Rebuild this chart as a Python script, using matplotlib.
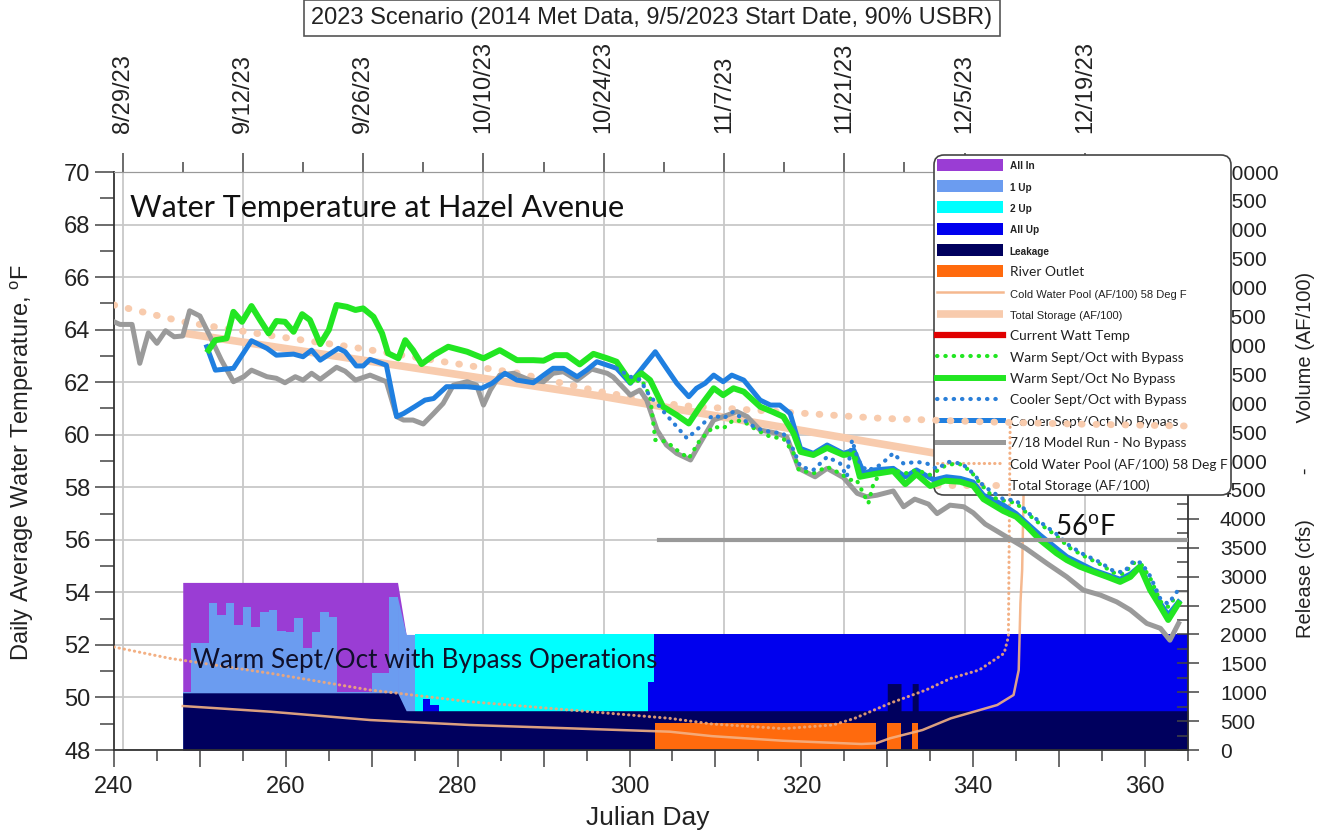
import matplotlib.pyplot as plt
from matplotlib.ticker import MultipleLocator, FuncFormatter

plt.rcParams['font.family'] = ['Liberation Sans', 'DejaVu Sans']
plt.rcParams['mathtext.fontset'] = 'custom'
plt.rcParams['mathtext.rm'] = 'Liberation Sans'

# calendar dates along the top axis
date_days = [241, 255, 269, 283, 297, 311, 325, 339, 353]
date_labels = ['8/29/23', '9/12/23', '9/26/23', '10/10/23', '10/24/23',
               '11/7/23', '11/21/23', '12/5/23', '12/19/23']
date_minor = [248, 262, 276, 290, 304, 318, 332, 346, 360]

# 7/18 model run - no bypass (deg F)
model_days = [240, 240.7, 242.1, 243, 244, 245, 246, 247, 248, 248.8, 250, 251.2, 252.5,
              253.9, 255.1, 256, 257.8, 258.9, 259.9, 261.1, 262, 263, 264, 265.9, 266.9,
              268.1, 269.8, 271.7, 272.9, 273.7, 274.8, 276, 277.2, 278.3, 279.5, 281.1,
              282.2, 283, 283.8, 284.9, 286.5, 288.4, 290, 291.1, 292.3, 293.9, 295.6,
              297.4, 298.1, 300.1, 301.2, 302, 303.2, 304.3, 305.5, 307.1, 308.2, 309.8,
              310.9, 312.5, 313.7, 315.2, 316.8, 318.3, 319.7, 321.6, 323, 324.9, 326.5,
              327.6, 328.8, 330.7, 331.9, 333.2, 334.8, 335.8, 337.3, 338.9, 340, 341.4,
              343.7, 346.1, 348.6, 350.9, 352.8, 354.8, 356.7, 358.3, 360.2, 361.8, 362.9,
              363.9]
model_temp = [64.3, 64.2, 64.2, 62.72, 63.88, 63.48, 63.96, 63.73, 63.76, 64.72, 64.52, 63.73,
              62.84, 62.02, 62.21, 62.46, 62.21, 62.15, 61.98, 62.21, 62.08, 62.34, 62.11,
              62.57, 62.42, 62.08, 62.27, 62.02, 60.69, 60.56, 60.56, 60.41, 60.81, 61.19,
              61.89, 62.02, 61.89, 61.13, 61.7, 62.27, 62.34, 62.08, 62.02, 62.34, 62.4,
              62.08, 62.5, 62.34, 62.2, 61.51, 61.7, 61.32, 60.18, 59.61, 59.29, 59.04,
              59.67, 60.56, 60.69, 60.88, 60.69, 60.18, 60.08, 59.92, 58.72, 58.4, 58.72,
              58.37, 57.77, 57.64, 57.7, 57.86, 57.26, 57.55, 57.36, 57.0, 57.32, 57.26,
              57.03, 56.6, 56.15, 55.68, 55.1, 54.59, 54.09, 53.9, 53.64, 53.33, 52.82,
              52.63, 52.18, 52.82]

# warm sept/oct, no bypass
warm_days = [251, 251.8, 253.1, 253.9, 254.9, 256, 257, 258, 258.9, 259.9, 260.9, 261.9,
             262.8, 264, 265, 265.9, 267.1, 268.1, 269, 270.2, 271.2, 271.9, 273.1, 273.9,
             274.8, 275.8, 277.2, 278.9, 281.1, 283, 284.9, 286.9, 288.8, 290, 291.3, 292.7,
             294.2, 295.8, 297.4, 298.5, 300.1, 301.4, 302.4, 303.9, 305.5, 306.9, 308.2,
             309.8, 310.9, 312.1, 313.3, 315.2, 316.6, 317.9, 319.1, 319.9, 321.4, 323,
             324.9, 326.1, 326.8, 328.4, 330.7, 332.1, 333.4, 335, 336.7, 338.5, 340,
             341.2, 343.5, 345, 346.3, 347.8, 349.7, 350.9, 352.4, 354, 355.6, 357.1,
             358.3, 359.4, 360.6, 361.8, 362.7, 363.9]
warm_temp = [63.22, 63.6, 63.67, 64.68, 64.3, 64.9, 64.37, 63.86, 64.33, 64.3, 63.92, 64.59,
             64.37, 63.45, 63.99, 64.94, 64.87, 64.75, 64.81, 64.49, 63.86, 63.1, 62.91,
             63.6, 63.22, 62.69, 63.03, 63.35, 63.16, 62.91, 63.22, 62.84, 62.84, 62.82,
             63.03, 63.03, 62.68, 63.08, 62.91, 62.78, 62.02, 62.34, 62.08, 61.07, 60.75,
             60.43, 61.07, 61.77, 61.51, 61.77, 61.64, 61.07, 60.88, 60.69, 60.05, 59.35,
             59.23, 59.5, 59.23, 59.29, 58.4, 58.5, 58.62, 58.12, 58.5, 58.05, 58.25,
             58.21, 58.06, 57.55, 57.1, 56.88, 56.5, 55.99, 55.49, 55.23, 54.98, 54.78,
             54.59, 54.4, 54.59, 54.98, 54.09, 53.45, 52.95, 53.58]

# warm sept/oct with bypass
warm_bp_days = [298.5, 300.1, 301.4, 302.4, 303, 304.3, 305.5, 306.9, 308.2, 309.8, 310.9,
                312.1, 313.3, 314.8, 316.4, 317.9, 319.1, 319.7, 321.4, 323, 324.5, 325.7,
                326.4, 327.8, 328.4, 329.2, 330.7, 332.1, 333.4, 335, 336.9, 338.3, 339.7,
                340.8, 342.4, 343.5, 345, 346.3, 347.8, 349.7, 351.2, 352.8, 354.8, 356.3,
                357.5, 358.7, 359.6, 360.6, 361.8, 362.7, 363.7]
warm_bp_temp = [62.78, 61.96, 62.1, 61.45, 59.8, 59.74, 59.42, 59.1, 59.8, 60.31, 60.24,
                60.56, 60.5, 60.18, 59.92, 59.86, 59.29, 58.66, 58.53, 58.78, 58.53, 58.28,
                58.3, 57.39, 58.15, 58.53, 58.66, 58.53, 58.66, 58.47, 58.85, 58.91, 58.62,
                58.15, 57.6, 57.5, 57.4, 57.0, 56.6, 56.15, 55.7, 55.4, 55.07, 54.75, 54.7,
                55.12, 55.05, 54.55, 53.65, 53.45, 53.9]

# cooler sept/oct, no bypass
cool_days = [250.8, 251.8, 253.9, 256, 257.8, 258.9, 260.9, 262, 263, 264, 266.1, 266.9,
             268.2, 269, 269.8, 271.7, 272.9, 273.7, 275, 276.2, 277.2, 278.7, 281.1, 282.8,
             284, 285.5, 286.9, 288.8, 290, 291.1, 292.3, 293.9, 295, 296.2, 297.4, 298.5,
             300.1, 301.6, 303, 304.3, 305.5, 306.9, 307.8, 308.8, 309.8, 310.9, 311.9,
             313.3, 315.2, 316.4, 317.5, 318.7, 319.9, 321.4, 323, 324.9, 326.1, 327.3,
             328.4, 330.7, 332.1, 333.4, 335.4, 336.9, 338.5, 340, 341.2, 343.5, 345,
             347.8, 350.9, 354, 357.1, 358.3, 359.4, 360.6, 361.8, 362.7, 363.9]
cool_temp = [63.35, 62.46, 62.53, 63.58, 63.29, 63.03, 63.07, 62.97, 63.22, 62.84, 63.29,
             63.16, 62.62, 62.62, 62.87, 62.65, 60.69, 60.81, 61.07, 61.32, 61.38, 61.83,
             61.83, 61.77, 61.96, 62.34, 62.08, 61.98, 62.27, 62.53, 62.53, 62.21, 62.46,
             62.78, 62.65, 62.53, 61.96, 62.59, 63.16, 62.53, 61.96, 61.45, 61.77, 61.96,
             62.27, 62.02, 62.27, 62.08, 61.32, 61.13, 61.13, 60.81, 59.48, 59.29, 59.61,
             59.29, 59.42, 58.53, 58.66, 58.72, 58.4, 58.66, 58.28, 58.4, 58.34, 58.2,
             57.7, 57.33, 57.0, 56.18, 55.36, 54.85, 54.5, 54.7, 55.0, 54.2, 53.58, 53.14,
             53.64]

# cooler sept/oct with bypass
cool_bp_days = [298.5, 300.1, 301.2, 302.4, 303.2, 304.3, 305.5, 306.7, 307.8, 309, 309.8,
                310.9, 312.1, 313.3, 314.8, 316.4, 317.9, 319.1, 319.9, 321.4, 323, 324.5,
                325.3, 325.9, 326.6, 327.6, 329.2, 330.7, 331.9, 333.4, 334.6, 335.8,
                337.1, 338.7, 340, 341.2, 343.5, 345, 346.3, 347.8, 349.7, 351.2, 352.8,
                354.8, 356.3, 357.5, 358.7, 359.6, 360.6, 361.8, 362.7, 363.7]
cool_bp_temp = [62.53, 62.21, 62.1, 61.45, 61.19, 60.75, 60.31, 59.86, 60.18, 60.56, 60.75,
                60.62, 60.88, 60.56, 60.24, 60.11, 60.05, 59.42, 58.78, 58.66, 59.16,
                58.91, 58.4, 59.8, 59.04, 58.62, 58.85, 59.3, 58.9, 58.97, 58.91, 58.7,
                58.97, 58.9, 58.53, 58.05, 57.55, 57.5, 57.05, 56.68, 56.22, 55.78, 55.46,
                55.14, 54.82, 54.76, 55.2, 55.12, 54.62, 53.75, 53.56, 54.02]

# 56 F target
target_days = [303.4, 365]
target_temp = [56, 56]

# storage volumes (AF/100)
ts_days = [248, 296.6, 317.5, 335.5, 355]
ts_vol = [7215, 6125, 5593, 5138, 4680]
ts_dot_days = [240, 248, 257.8, 267.5, 277.1, 286.9, 296.6, 305.9, 317.5, 329.2, 340.8, 352, 365]
ts_dot_vol = [7700, 7410, 7180, 6977, 6747, 6522, 6200, 5960, 5853, 5739, 5680, 5640, 5606]
cwp_days = [248, 258.2, 269.8, 281.4, 293.1, 304.7, 309.6, 317.9, 327, 328.7, 330.3, 334.1,
            337.4, 342.8, 344.7, 345.3, 345.5, 345.7, 346]
cwp_vol = [761, 663, 519, 433, 375, 317, 240, 160, 104, 116, 202, 346, 548, 779, 952, 1384,
           2543, 3114, 5500]
cwp_dot_days = [240, 246.5, 258.2, 269.8, 281.4, 293.1, 304.7, 309.6, 317.9, 323.7, 326.2,
                330.3, 334.5, 337.4, 340.7, 343.6, 344.1, 344.3]
cwp_dot_vol = [1782, 1586, 1327, 1038, 836, 692, 548, 450, 370, 433, 548, 808, 1038, 1240,
               1384, 1673, 1960, 5620]

# release operations, top of each band (cfs)
allin_days = [248, 273, 274]
allin_cfs = [2900, 2900, 2000]
up1_days = [248, 249, 250, 251, 252, 253, 254, 255, 256, 257, 258, 259, 260, 261, 262, 263,
            264, 265, 266, 267, 268, 269, 270, 271, 272, 273]
up1_cfs = [1000, 1850, 1850, 2550, 2340, 2550, 2170, 2480, 2120, 2380, 2430, 2060, 2050, 2290,
           1760, 2050, 2380, 2300, 1000, 1000, 1000, 1000, 1330, 1330, 2640, 2640]
up1_end_days = [273, 274, 275]
up1_end_cfs = [2640, 2000, 2000]
up2_days = [275, 303]
up2_cfs = [2000, 2000]
allup_days = [276, 276.8, 277.8, 302.1, 302.8, 365]
allup_cfs = [890, 780, 0, 1180, 2000, 2000]
leak_days = [248, 273, 274, 330, 330, 331.6, 331.6, 332.9, 332.9, 333.6, 333.6, 365]
leak_cfs = [990, 990, 680, 680, 1150, 1150, 680, 680, 1150, 1150, 680, 680]
outlet_days = [303, 328.7, 330, 331.6, 332.9, 333.6]
outlet_cfs = [460, 0, 460, 0, 460, 0]

fig = plt.figure(figsize=(13.21, 8.34), dpi=100)
ax = fig.add_axes([0.0863, 0.1007, 0.8130, 0.6930])
ax2 = ax.twinx()
ax3 = ax.twinx()

grid_c = '#c8c8c8'
ax.set_xlim(240, 365)
ax.set_ylim(48, 70)
ax.yaxis.grid(True, which='major', color=grid_c, lw=1.3)
for d in date_days:
    ax.axvline(d, color=grid_c, lw=1.3, zorder=0.5)
for s in ax.spines.values():
    s.set_visible(False)

ax.yaxis.set_major_locator(MultipleLocator(2))
ax.yaxis.set_minor_locator(MultipleLocator(1))
ax.xaxis.set_major_locator(MultipleLocator(10))
ax.xaxis.set_minor_locator(MultipleLocator(5))
ax.xaxis.set_major_formatter(FuncFormatter(lambda v, p: f'{v:.0f}' if v % 20 == 0 else ''))
ax.tick_params(axis='y', which='major', length=14, width=1.1, color='#444', labelsize=17,
               labelcolor='#222', pad=3)
ax.tick_params(axis='y', which='minor', length=10, width=1.1, color='#444')
ax.tick_params(axis='x', which='major', length=12, width=1.1, color='#444', labelsize=17,
               labelcolor='#222', pad=7)
ax.tick_params(axis='x', which='minor', length=8, width=1.1, color='#444')

top = ax.secondary_xaxis('top')
top.set_xticks(date_days, date_labels, rotation=90, fontsize=17, color='#222')
top.set_xticks(date_minor, minor=True)
top.tick_params(which='major', length=14, width=1.1, color='#444', pad=14)
top.tick_params(which='minor', length=7, width=1.1, color='#444')
top.spines['top'].set_color('#999999')

# release bands
f_allin = ax2.fill_between(allin_days, 0, allin_cfs, color='#9a3dd4', lw=0)
f_up1 = ax2.fill_between(up1_days, 0, up1_cfs, step='post', color='#6b9cf0', lw=0)
ax2.fill_between(up1_end_days, 0, up1_end_cfs, color='#6b9cf0', lw=0)
f_up2 = ax2.fill_between(up2_days, 0, up2_cfs, color='#00ffff', lw=0)
f_allup = ax2.fill_between(allup_days, 0, allup_cfs, step='post', color='#0000ee', lw=0)
f_leak = ax2.fill_between(leak_days, 0, leak_cfs, color='#00005e', lw=0)
f_outlet = ax2.fill_between(outlet_days, 0, outlet_cfs, step='post', color='#ff6a0d', lw=0)

# storage lines
l_cwp, = ax2.plot(cwp_days, cwp_vol, color='#f4b183', lw=1.8, alpha=0.9, zorder=3)
l_ts, = ax2.plot(ts_days, ts_vol, color='#f8cbad', lw=5.5, zorder=3, solid_capstyle='butt')
l_cwp_dot, = ax2.plot(cwp_dot_days, cwp_dot_vol, color='#f2a877', lw=2.2, alpha=0.9,
                      ls=(0, (0.1, 1.6)), dash_capstyle='round', zorder=6)
l_ts_dot, = ax2.plot(ts_dot_days, ts_dot_vol, color='#f8cbad', lw=5,
                     ls=(0, (0.1, 2.0)), dash_capstyle='round', zorder=6)

ax2.set_ylim(0, 10000)
ax2.yaxis.set_major_locator(MultipleLocator(500))
ax2.yaxis.set_minor_locator(MultipleLocator(250))
ax2.tick_params(axis='y', which='major', direction='inout', length=16, width=1.1, color='#444',
                labelsize=15, labelcolor='#222', pad=15)
ax2.tick_params(axis='y', which='minor', direction='in', length=8, width=1.1, color='#444')
for side in ['left', 'bottom', 'right']:
    ax2.spines[side].set_color('#333333')
    ax2.spines[side].set_linewidth(1.3)
ax2.spines['top'].set_color('#999999')

# temperature lines
ax3.set_ylim(48, 70)
ax3.yaxis.set_visible(False)
for s in ax3.spines.values():
    s.set_visible(False)
l_model, = ax3.plot(model_days, model_temp, color='#9a9a9a', lw=3.6)
l_cool, = ax3.plot(cool_days, cool_temp, color='#1f7fe0', lw=3.6)
l_warm, = ax3.plot(warm_days, warm_temp, color='#22e622', lw=4.3)
l_warm_bp, = ax3.plot(warm_bp_days, warm_bp_temp, color='#22e622', lw=3,
                      ls=(0, (0.1, 1.9)), dash_capstyle='round')
l_cool_bp, = ax3.plot(cool_bp_days, cool_bp_temp, color='#2a7fd8', lw=3,
                      ls=(0, (0.1, 1.9)), dash_capstyle='round')
l_watt, = ax3.plot([], [], color='#e00000', lw=4.5)
ax3.plot(target_days, target_temp, color='#999999', lw=3)

ax3.text(0.0149, 0.9377, 'Water Temperature at Hazel Avenue', transform=ax3.transAxes,
         fontsize=22, family='Lato', color='#111111', va='center')
ax3.text(0.0736, 0.1557, 'Warm Sept/Oct with Bypass Operations', transform=ax3.transAxes,
         fontsize=18.8, family='Lato', color='#10102a', va='center')
ax3.text(0.876, 0.384, r'56$^{\mathrm{o}}$F', transform=ax3.transAxes,
         fontsize=20, family='Lato', color='#111111', va='center')

handles = [f_allin, f_up1, f_up2, f_allup, f_leak, f_outlet, l_cwp, l_ts, l_watt,
           l_warm_bp, l_warm, l_cool_bp, l_cool, l_model, l_cwp_dot, l_ts_dot]
labels = ['All In', '1 Up', '2 Up', 'All Up', 'Leakage', 'River Outlet',
          'Cold Water Pool (AF/100) 58 Deg F', 'Total Storage (AF/100)', 'Current Watt Temp',
          'Warm Sept/Oct with Bypass', 'Warm Sept/Oct No Bypass', 'Cooler Sept/Oct with Bypass',
          'Cooler Sept/Oct No Bypass', '7/18 Model Run - No Bypass',
          'Cold Water Pool (AF/100) 58 Deg F', 'Total Storage (AF/100)']
leg = ax2.legend(handles, labels, loc='upper left', bbox_to_anchor=(0.7635, 1.0294),
                 fontsize=10, handlelength=4.7, handleheight=0.95, handletextpad=0.5,
                 labelspacing=0.62, borderpad=0.25, borderaxespad=0, fancybox=True,
                 framealpha=1, edgecolor='#444444')
leg.get_frame().set_linewidth(1.2)
leg.get_frame().set_boxstyle('round', pad=0, rounding_size=0.7)
for i, t in enumerate(leg.get_texts()):
    t.set_color('#222222')
    if i < 5:
        t.set_fontsize(7.2)
        t.set_fontweight('bold')
    elif i in (6, 7):
        t.set_fontsize(8)
    else:
        t.set_fontsize(9.9)
        t.set_family('Lato')

fig.text(0.4936, 0.978, '2023 Scenario (2014 Met Data, 9/5/2023 Start Date, 90% USBR)',
         ha='center', va='center', fontsize=17, color='#222',
         bbox=dict(boxstyle='square,pad=0.3', fc='white', ec='#555555', lw=1.2))
fig.text(0.0167, 0.446, r'Daily Average Water Temperature, $^{\mathrm{o}}$F', rotation=90,
         ha='center', va='center', fontsize=17, color='#222')
fig.text(0.988, 0.454, 'Release (cfs)        -        Volume (AF/100)', rotation=90,
         ha='center', va='center', fontsize=14.5, color='#222')
fig.text(0.4905, 0.019, 'Julian Day', ha='center', va='center', fontsize=19, color='#222')

fig.savefig('out.png', dpi=100)
